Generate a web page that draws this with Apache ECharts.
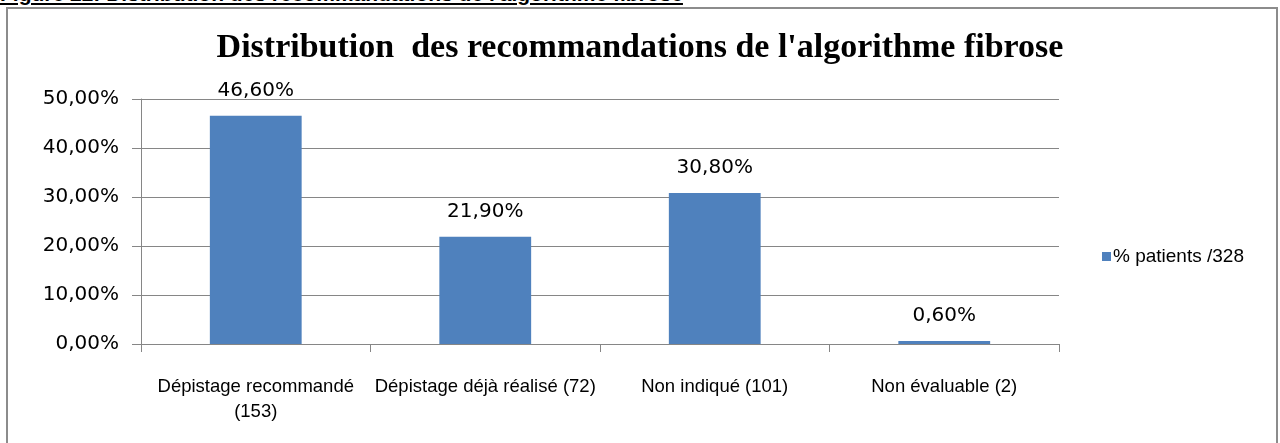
<!DOCTYPE html>
<html>
<head>
<meta charset="utf-8">
<script src="https://cdn.jsdelivr.net/npm/echarts@6/dist/echarts.min.js"></script>
<style>
  html, body { margin: 0; padding: 0; background: #fff; }
  #wrap { position: relative; width: 1280px; height: 443px; overflow: hidden; }
  #caption { position: absolute; left: 0; top: -18px; font-family: "Liberation Sans", sans-serif;
    font-weight: bold; font-size: 21px; text-decoration: underline; color: #000; white-space: nowrap; }
  #frame { position: absolute; left: 6px; top: 7px; width: 1268px; height: 460px; border: 2px solid #8c8c8c; }
  #main { position: absolute; left: 0; top: 0; width: 1280px; height: 443px; }
</style>
</head>
<body>
<div id="wrap">
  <div id="caption">Figure 22: Distribution des recommandations de l'algorithme fibrose</div>
  <div id="frame"></div>
  <div id="main"></div>
</div>
<script>
    // données
    var categories = ['Dépistage recommandé\n(153)', 'Dépistage déjà réalisé (72)', 'Non indiqué (101)', 'Non évaluable (2)'];
    var values = [46.6, 21.9, 30.8, 0.6];
    var seriesName = '% patients /328';
    var titleText = 'Distribution  des recommandations de l\'algorithme fibrose';

    function fmtPct(v) {
        return v.toFixed(2).replace('.', ',') + '%';
    }

    var myChart = echarts.init(document.getElementById('main'));
    var option = {
        animation: false,
        title: {
            text: titleText,
            left: 'center',
            top: 26,
            textStyle: {
                fontFamily: 'Liberation Serif',
                fontWeight: 'bold',
                fontSize: 34,
                color: '#000'
            }
        },
        legend: {
            data: [seriesName],
            left: 1097,
            top: 242,
            icon: 'rect',
            itemWidth: 9,
            itemHeight: 9,
            itemGap: 4,
            textStyle: {
                fontFamily: 'Liberation Sans',
                fontSize: 19,
                color: '#000',
                padding: [0, 0, 0, -3]
            }
        },
        grid: {
            left: 141,
            right: 221,
            top: 99,
            bottom: 99
        },
        xAxis: {
            type: 'category',
            data: categories,
            axisLine: {lineStyle: {color: '#868686', width: 1}},
            axisTick: {show: true, length: 8, lineStyle: {color: '#868686'}},
            axisLabel: {
                interval: 0,
                margin: 30,
                lineHeight: 25,
                fontFamily: 'Liberation Sans',
                fontSize: 18.5,
                color: '#000'
            }
        },
        yAxis: {
            type: 'value',
            min: 0,
            max: 50,
            interval: 10,
            axisLine: {show: true, lineStyle: {color: '#868686'}},
            axisTick: {show: true, length: 9, lineStyle: {color: '#868686'}},
            splitLine: {lineStyle: {color: '#868686', width: 1}},
            axisLabel: {
                margin: 22,
                fontFamily: 'DejaVu Sans',
                fontSize: 20,
                color: '#000',
                formatter: fmtPct
            }
        },
        series: [
            {
                name: seriesName,
                type: 'bar',
                data: values,
                barWidth: '40%',
                itemStyle: {color: '#4F81BD'},
                label: {
                    show: true,
                    position: 'top',
                    distance: 15,
                    fontFamily: 'DejaVu Sans',
                    fontSize: 20,
                    color: '#000',
                    formatter: function (p) { return fmtPct(p.value); }
                }
            }
        ]
    };
    myChart.setOption(option);
</script>
</body>
</html>
